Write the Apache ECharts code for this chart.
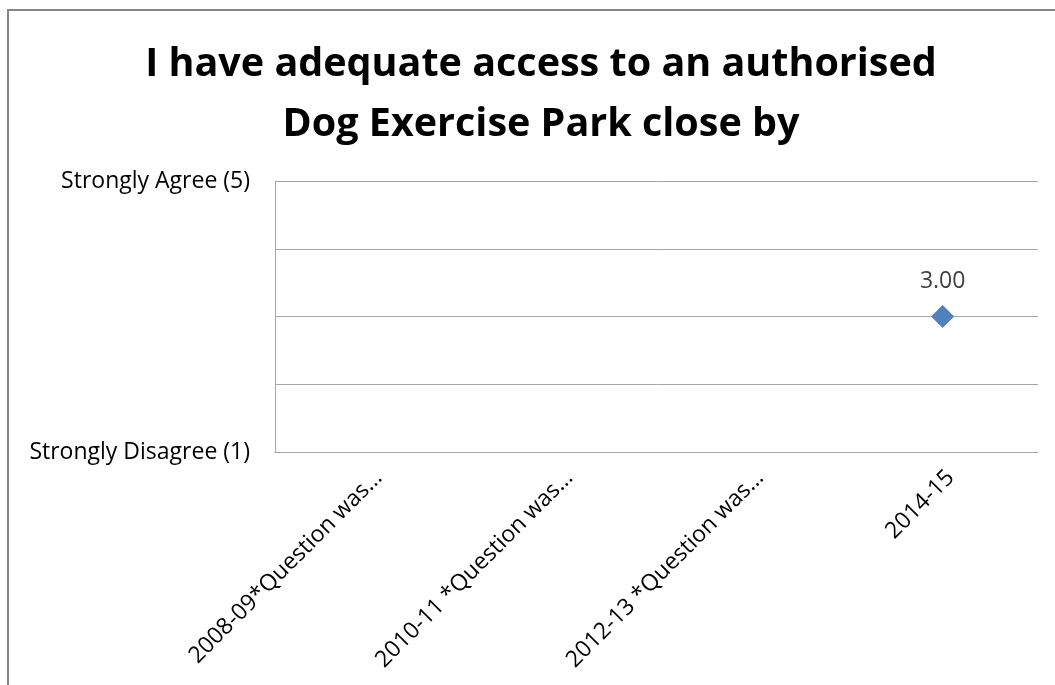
<!DOCTYPE html>
<html>
<head>
<meta charset="utf-8">
<script src="https://cdn.jsdelivr.net/npm/echarts@6/dist/echarts.min.js"></script>
<style>
  html, body { margin: 0; padding: 0; background: #fff; }
  #chart { width: 1055px; height: 685px; }
</style>
</head>
<body>
<div id="chart"></div>
<script>
// Survey years (labels as shown on the category axis)
const categories = [
  '2008-09*Question was…',
  '2010-11 *Question was…',
  '2012-13 *Question was…',
  '2014-15'
];
// Mean agreement score per survey year (question only asked in 2014-15)
const scores = [null, null, null, 3.00];
// Scale end labels
const scaleLabels = { 1: 'Strongly Disagree (1)', 5: 'Strongly Agree (5)' };

const FONT = '"Open Sans", "Noto Sans", sans-serif';

const chart = echarts.init(document.getElementById('chart'), null, { renderer: 'canvas' });
chart.setOption({
  backgroundColor: '#ffffff',
  animation: false,
  title: {
    text: 'I have adequate access to an authorised\nDog Exercise Park close by',
    left: 536,
    textAlign: 'center',
    top: 30,
    textStyle: {
      fontFamily: FONT,
      fontWeight: 'bold',
      fontSize: 39.5,
      lineHeight: 60,
      color: '#000000'
    }
  },
  graphic: [{
    type: 'rect',
    shape: { x: 8, y: 10, width: 1200, height: 1000 },
    style: { fill: 'none', stroke: '#868686', lineWidth: 2 },
    silent: true
  }],
  grid: { left: 275, right: 17, top: 181, bottom: 233, containLabel: false },
  xAxis: {
    type: 'category',
    data: categories,
    boundaryGap: true,
    axisLine: { show: true, lineStyle: { color: '#a6a6a6', width: 1 } },
    axisTick: { show: false },
    axisLabel: {
      rotate: 45,
      interval: 0,
      margin: 14,
      verticalAlign: 'top',
      fontFamily: FONT,
      fontSize: 23,
      color: '#000000'
    }
  },
  yAxis: {
    type: 'value',
    min: 1,
    max: 5,
    interval: 1,
    axisLine: { show: true, lineStyle: { color: '#a6a6a6', width: 1 } },
    axisTick: { show: false },
    splitLine: { show: true, lineStyle: { color: '#a6a6a6', width: 1 } },
    axisLabel: {
      margin: 25,
      fontFamily: FONT,
      fontSize: 23,
      color: '#000000',
      formatter: v => scaleLabels[v] || ''
    }
  },
  series: [{
    type: 'line',
    data: scores,
    connectNulls: false,
    lineStyle: { width: 0 },
    symbol: 'diamond',
    symbolSize: [23, 23],
    itemStyle: { color: '#4f81bd' },
    label: {
      show: true,
      position: 'top',
      distance: 12,
      fontFamily: FONT,
      fontSize: 23,
      color: '#404040',
      formatter: p => p.value == null ? '' : Number(p.value).toFixed(2)
    }
  }]
});
</script>
</body>
</html>
